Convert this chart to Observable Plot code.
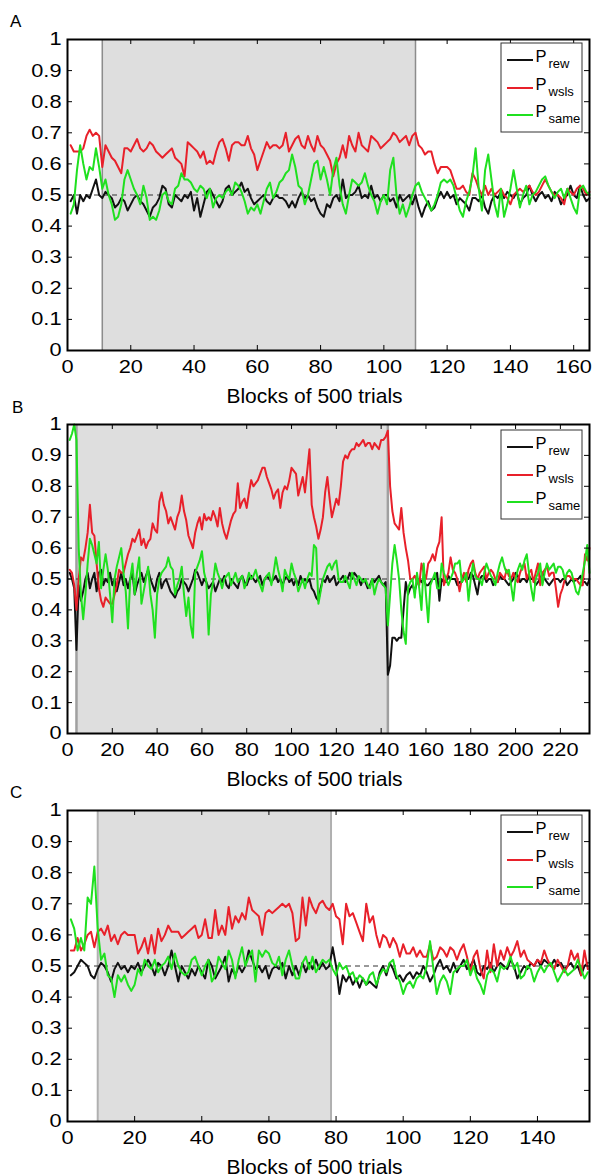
<!DOCTYPE html>
<html><head><meta charset="utf-8">
<script src="https://cdn.jsdelivr.net/npm/d3@7"></script>
<script src="https://cdn.jsdelivr.net/npm/@observablehq/plot@0.6"></script>
<style>
body{margin:0;background:#fff;}
#page{position:relative;width:595px;height:1176px;overflow:hidden;font-family:"Liberation Sans",Arial,sans-serif;}
#page svg{position:absolute;left:0;}
</style></head><body><div id="page"></div>
<script>
// ---------- labels / ticks ----------
const panelLetters = ["A", "B", "C"];
const seriesSubs = ["rew", "wsls", "same"];
const seriesColors = ["#111111", "#e8202a", "#1fe01f"];
const xLabel = "Blocks of 500 trials";
const yTicks = [0, 0.1, 0.2, 0.3, 0.4, 0.5, 0.6, 0.7, 0.8, 0.9, 1];
const xTicksA = [0, 20, 40, 60, 80, 100, 120, 140, 160];
const xTicksB = [0, 20, 40, 60, 80, 100, 120, 140, 160, 180, 200, 220];
const xTicksC = [0, 20, 40, 60, 80, 100, 120, 140];
const xMaxA = 165, xMaxB = 233, xMaxC = 155.5;
const chanceLevel = [0.5];
const shadeA = [11, 110];
const shadeB = [4, 143];
const shadeC = [9, 78.5];

// ---------- panel A (blocks 1..165) ----------
const aRew = [0.48,0.50,0.44,0.50,0.48,0.50,0.49,0.52,0.55,0.50,
0.49,0.51,0.50,0.49,0.46,0.47,0.49,0.48,0.45,0.47,
0.49,0.50,0.48,0.47,0.45,0.43,0.46,0.47,0.49,0.53,
0.52,0.47,0.46,0.50,0.49,0.48,0.50,0.49,0.51,0.45,
0.49,0.43,0.47,0.51,0.52,0.50,0.48,0.46,0.48,0.52,
0.53,0.50,0.51,0.52,0.54,0.51,0.52,0.49,0.47,0.48,
0.49,0.50,0.48,0.47,0.49,0.50,0.49,0.49,0.48,0.46,0.48,
0.46,0.49,0.51,0.49,0.50,0.48,0.49,0.46,0.44,
0.43,0.47,0.46,0.49,0.50,0.48,0.55,0.49,0.50,0.50,
0.51,0.53,0.49,0.50,0.49,0.53,0.49,0.50,0.48,0.50,
0.50,0.48,0.49,0.46,0.50,0.48,0.49,0.50,0.47,0.50,
0.46,0.43,0.46,0.48,0.45,0.46,0.49,0.51,0.49,0.51,
0.49,0.50,0.47,0.49,0.48,0.47,0.45,0.49,0.49,0.48,
0.50,0.46,0.44,0.48,0.50,0.49,0.51,0.49,0.51,0.50,
0.49,0.51,0.47,0.49,0.50,0.53,0.50,0.48,0.50,0.51,
0.49,0.50,0.48,0.51,0.50,0.47,0.49,0.50,0.53,0.50,
0.49,0.53,0.50,0.48,0.49];
const aWsls = [0.66,0.64,0.64,0.64,0.65,0.69,0.71,0.69,0.70,0.69,
0.59,0.66,0.64,0.62,0.61,0.59,0.57,0.65,0.65,0.64,
0.66,0.68,0.65,0.64,0.65,0.67,0.66,0.64,0.63,0.62,
0.63,0.64,0.65,0.62,0.61,0.60,0.56,0.67,0.66,0.65,
0.64,0.62,0.64,0.60,0.61,0.60,0.64,0.67,0.68,0.65,
0.61,0.66,0.67,0.67,0.66,0.66,0.69,0.65,0.63,0.58,
0.61,0.64,0.67,0.65,0.66,0.66,0.65,0.66,0.70,0.64,0.66,
0.68,0.69,0.66,0.65,0.69,0.66,0.64,0.69,0.66,0.65,
0.63,0.61,0.56,0.60,0.62,0.66,0.62,0.69,0.66,0.64,
0.70,0.66,0.65,0.64,0.69,0.68,0.67,0.65,0.66,0.67,
0.68,0.70,0.69,0.67,0.68,0.69,0.66,0.69,0.70,0.66,
0.65,0.63,0.64,0.64,0.60,0.57,0.59,0.59,0.59,0.58,
0.55,0.52,0.52,0.53,0.51,0.50,0.57,0.55,0.52,0.50,
0.53,0.50,0.52,0.50,0.51,0.52,0.50,0.49,0.47,0.50,
0.51,0.52,0.51,0.52,0.53,0.51,0.50,0.51,0.53,0.55,
0.53,0.51,0.50,0.50,0.49,0.47,0.52,0.51,0.50,0.52,
0.53,0.52,0.50,0.51];
const aSame = [0.44,0.47,0.58,0.66,0.60,0.55,0.59,0.58,0.65,0.59,
0.52,0.55,0.50,0.47,0.42,0.43,0.47,0.55,0.58,0.55,
0.52,0.50,0.47,0.53,0.49,0.42,0.43,0.42,0.45,0.50,
0.51,0.48,0.47,0.52,0.53,0.57,0.55,0.55,0.54,0.52,
0.51,0.53,0.52,0.49,0.52,0.46,0.49,0.50,0.49,0.51,
0.52,0.50,0.54,0.53,0.51,0.48,0.44,0.46,0.45,0.47,
0.44,0.48,0.52,0.54,0.49,0.51,0.54,0.55,0.57,0.58,0.63,
0.59,0.53,0.52,0.47,0.50,0.55,0.60,0.61,0.55,0.59,
0.55,0.50,0.58,0.62,0.53,0.47,0.44,0.50,0.55,0.54,
0.53,0.54,0.57,0.53,0.50,0.48,0.44,0.48,0.50,0.47,
0.58,0.62,0.50,0.44,0.47,0.43,0.46,0.50,0.53,0.54,
0.51,0.49,0.47,0.45,0.47,0.50,0.54,0.55,0.54,0.55,
0.53,0.49,0.45,0.43,0.48,0.51,0.56,0.65,0.52,0.45,
0.58,0.63,0.55,0.47,0.43,0.52,0.43,0.47,0.52,0.58,
0.52,0.46,0.50,0.53,0.47,0.50,0.51,0.53,0.55,0.56,
0.53,0.51,0.49,0.51,0.52,0.49,0.52,0.49,0.46,0.44,
0.52,0.53,0.51,0.50];

// ---------- panel B (blocks 1..233) ----------
const bRew = [0.52,0.50,0.47,0.27,0.48,0.43,0.46,0.50,0.52,0.47,
0.50,0.52,0.46,0.52,0.53,0.48,0.50,0.49,0.52,0.48,
0.50,0.46,0.49,0.52,0.48,0.50,0.47,0.50,0.52,0.45,
0.48,0.50,0.52,0.49,0.51,0.53,0.50,0.48,0.46,0.50,
0.52,0.47,0.49,0.50,0.48,0.46,0.45,0.44,0.46,0.47,
0.50,0.49,0.48,0.46,0.48,0.50,0.53,0.52,0.50,0.48,
0.50,0.49,0.47,0.48,0.49,0.46,0.48,0.50,0.49,0.51,
0.48,0.47,0.50,0.49,0.48,0.47,0.50,0.51,0.49,0.48,
0.50,0.51,0.50,0.49,0.50,0.51,0.48,0.50,0.51,0.50,
0.49,0.50,0.51,0.49,0.50,0.48,0.50,0.51,0.49,0.50,
0.48,0.50,0.48,0.51,0.49,0.50,0.49,0.50,0.47,0.46,
0.44,0.43,0.47,0.50,0.49,0.51,0.49,0.50,0.51,0.48,
0.49,0.50,0.51,0.49,0.50,0.52,0.50,0.52,0.51,0.50,
0.48,0.50,0.49,0.47,0.48,0.50,0.49,0.50,0.51,0.49,
0.48,0.49,0.19,0.22,0.31,0.31,0.30,0.31,0.31,0.40,
0.49,0.45,0.47,0.48,0.46,0.49,0.50,0.49,0.50,0.48,
0.48,0.49,0.50,0.50,0.52,0.43,0.50,0.49,0.49,0.51,
0.50,0.50,0.50,0.48,0.49,0.49,0.51,0.50,0.50,0.52,
0.51,0.48,0.45,0.50,0.51,0.51,0.49,0.50,0.50,0.48,
0.49,0.49,0.51,0.50,0.50,0.49,0.48,0.49,0.50,0.52,
0.51,0.49,0.50,0.50,0.49,0.51,0.50,0.50,0.48,0.49,
0.50,0.52,0.50,0.49,0.48,0.49,0.50,0.50,0.50,0.49,
0.50,0.50,0.48,0.49,0.50,0.49,0.50,0.50,0.51,0.49,
0.49,0.48,0.50];
const bWsls = [0.53,0.52,0.48,0.40,0.50,0.57,0.56,0.60,0.65,0.74,
0.65,0.64,0.55,0.47,0.43,0.41,0.44,0.43,0.42,0.42,
0.45,0.48,0.53,0.52,0.52,0.55,0.58,0.60,0.63,0.62,
0.64,0.66,0.61,0.63,0.60,0.62,0.63,0.68,0.66,0.65,
0.75,0.78,0.74,0.72,0.68,0.70,0.68,0.66,0.70,0.72,
0.77,0.72,0.69,0.64,0.62,0.60,0.65,0.68,0.70,0.66,
0.71,0.69,0.70,0.69,0.72,0.70,0.67,0.73,0.68,0.65,
0.63,0.66,0.69,0.71,0.72,0.81,0.73,0.75,0.76,0.73,
0.78,0.82,0.80,0.81,0.82,0.84,0.86,0.86,0.83,0.81,
0.79,0.76,0.78,0.79,0.73,0.78,0.80,0.79,0.82,0.86,
0.85,0.84,0.77,0.80,0.83,0.78,0.85,0.92,0.74,0.70,
0.67,0.63,0.66,0.70,0.78,0.83,0.76,0.70,0.73,0.76,
0.74,0.80,0.88,0.90,0.89,0.91,0.92,0.92,0.94,0.93,
0.94,0.95,0.93,0.94,0.94,0.92,0.94,0.93,0.92,0.95,
0.95,0.96,0.98,0.80,0.72,0.68,0.67,0.66,0.73,0.65,
0.60,0.56,0.50,0.50,0.51,0.49,0.48,0.55,0.52,0.50,
0.55,0.56,0.58,0.56,0.60,0.62,0.70,0.48,0.50,0.52,
0.57,0.53,0.52,0.50,0.46,0.50,0.52,0.49,0.53,0.55,
0.56,0.52,0.50,0.52,0.53,0.54,0.50,0.52,0.53,0.52,
0.50,0.49,0.52,0.51,0.50,0.53,0.51,0.50,0.52,0.50,
0.49,0.52,0.54,0.55,0.50,0.52,0.53,0.49,0.52,0.55,
0.48,0.52,0.53,0.54,0.51,0.52,0.52,0.47,0.41,0.45,
0.47,0.50,0.51,0.51,0.50,0.50,0.50,0.49,0.48,0.48,
0.58,0.56,0.60];
const bSame = [0.95,0.97,1.00,0.95,0.60,0.45,0.37,0.45,0.55,0.63,
0.61,0.58,0.55,0.62,0.47,0.53,0.58,0.53,0.45,0.36,
0.50,0.54,0.57,0.60,0.52,0.46,0.34,0.50,0.55,0.45,
0.52,0.57,0.42,0.46,0.50,0.54,0.45,0.40,0.31,0.45,
0.50,0.52,0.53,0.54,0.57,0.54,0.53,0.45,0.48,0.50,
0.54,0.45,0.38,0.44,0.35,0.31,0.52,0.54,0.56,0.59,
0.52,0.49,0.32,0.45,0.49,0.55,0.52,0.50,0.47,0.50,
0.51,0.52,0.48,0.50,0.52,0.49,0.50,0.51,0.47,0.49,
0.52,0.50,0.51,0.53,0.50,0.48,0.46,0.50,0.51,0.52,
0.48,0.52,0.57,0.53,0.50,0.46,0.53,0.51,0.50,0.55,
0.52,0.50,0.46,0.48,0.50,0.47,0.50,0.52,0.51,0.61,
0.60,0.42,0.46,0.50,0.52,0.54,0.55,0.53,0.55,0.56,
0.50,0.49,0.49,0.51,0.49,0.47,0.52,0.50,0.48,0.51,
0.50,0.49,0.50,0.48,0.47,0.50,0.45,0.48,0.50,0.49,
0.48,0.47,0.35,0.45,0.55,0.61,0.56,0.50,0.40,0.33,
0.29,0.47,0.49,0.50,0.44,0.52,0.47,0.40,0.55,0.45,
0.36,0.48,0.50,0.52,0.47,0.47,0.55,0.52,0.50,0.48,
0.50,0.52,0.55,0.55,0.56,0.49,0.50,0.52,0.43,0.50,
0.55,0.51,0.50,0.50,0.48,0.52,0.55,0.53,0.51,0.50,
0.48,0.52,0.55,0.57,0.54,0.52,0.53,0.48,0.43,0.50,
0.53,0.55,0.53,0.56,0.58,0.52,0.47,0.43,0.50,0.52,
0.55,0.48,0.52,0.55,0.53,0.54,0.55,0.52,0.54,0.54,
0.53,0.50,0.52,0.53,0.52,0.49,0.46,0.45,0.48,0.52,
0.56,0.61,0.52];

// ---------- panel C (blocks 1..155) ----------
const cRew = [0.47,0.48,0.50,0.52,0.51,0.50,0.47,0.46,0.49,0.51,
0.50,0.48,0.45,0.49,0.51,0.49,0.50,0.48,0.50,0.49,
0.51,0.48,0.50,0.52,0.50,0.47,0.51,0.50,0.47,0.50,
0.55,0.50,0.45,0.50,0.48,0.46,0.49,0.47,0.50,0.48,
0.46,0.52,0.50,0.46,0.48,0.50,0.53,0.45,0.49,0.47,
0.50,0.48,0.50,0.55,0.52,0.49,0.50,0.48,0.50,0.46,
0.49,0.50,0.49,0.51,0.46,0.50,0.47,0.50,
0.47,0.51,0.48,0.51,0.49,0.52,0.49,0.51,0.49,0.50,
0.56,0.50,0.41,0.47,0.45,0.47,0.44,0.46,0.43,0.46,
0.44,0.45,0.44,0.43,0.48,0.50,0.47,0.51,0.49,0.46,
0.47,0.45,0.47,0.48,0.46,0.48,0.47,0.50,0.48,0.45,
0.47,0.50,0.52,0.49,0.50,0.48,0.51,0.48,0.50,0.52,
0.49,0.50,0.52,0.48,0.47,0.50,0.49,0.51,0.48,0.50,
0.51,0.50,0.49,0.52,0.50,0.46,0.48,0.50,0.49,0.51,
0.50,0.52,0.50,0.52,0.51,0.50,0.52,0.50,0.51,0.49,
0.50,0.51,0.49,0.50,0.47,0.50,0.51];
const cWsls = [0.55,0.55,0.59,0.55,0.57,0.60,0.61,0.56,0.61,0.62,
0.60,0.63,0.58,0.60,0.57,0.60,0.61,0.60,0.60,0.60,
0.54,0.56,0.59,0.54,0.60,0.54,0.62,0.58,0.60,0.63,
0.61,0.61,0.61,0.59,0.60,0.61,0.62,0.63,0.59,0.60,
0.65,0.59,0.59,0.68,0.60,0.63,0.60,0.69,0.62,0.66,
0.64,0.67,0.65,0.72,0.68,0.67,0.66,0.60,0.67,0.68,
0.67,0.68,0.69,0.70,0.69,0.70,0.67,0.58,
0.59,0.72,0.63,0.72,0.69,0.67,0.70,0.71,0.69,0.68,
0.70,0.66,0.65,0.57,0.70,0.66,0.67,0.64,0.61,0.58,
0.70,0.64,0.66,0.60,0.56,0.60,0.59,0.56,0.59,0.57,
0.53,0.57,0.54,0.54,0.56,0.53,0.55,0.53,0.53,0.57,
0.52,0.53,0.56,0.55,0.53,0.56,0.55,0.52,0.55,0.57,
0.53,0.48,0.53,0.55,0.49,0.46,0.55,0.48,0.57,0.50,
0.55,0.52,0.56,0.53,0.55,0.58,0.53,0.55,0.52,0.51,
0.50,0.52,0.51,0.55,0.52,0.50,0.49,0.52,0.50,0.48,
0.50,0.55,0.52,0.54,0.47,0.55,0.49];
const cSame = [0.65,0.62,0.55,0.59,0.55,0.72,0.70,0.82,0.62,0.52,
0.54,0.47,0.46,0.40,0.47,0.45,0.47,0.44,0.42,0.44,
0.49,0.47,0.52,0.50,0.49,0.52,0.48,0.50,0.51,0.53,
0.49,0.54,0.50,0.48,0.47,0.48,0.52,0.53,0.50,0.47,
0.50,0.52,0.45,0.47,0.53,0.51,0.49,0.55,0.52,0.46,
0.52,0.56,0.50,0.53,0.55,0.45,0.55,0.53,0.55,0.54,
0.51,0.50,0.53,0.47,0.52,0.55,0.50,0.46,
0.46,0.51,0.53,0.49,0.53,0.48,0.50,0.52,0.51,0.52,
0.49,0.47,0.51,0.49,0.50,0.47,0.48,0.45,0.47,0.46,
0.44,0.47,0.48,0.44,0.47,0.49,0.48,0.51,0.52,0.47,
0.45,0.41,0.44,0.45,0.43,0.46,0.47,0.46,0.50,0.58,
0.49,0.41,0.45,0.47,0.45,0.41,0.48,0.49,0.50,0.50,
0.52,0.47,0.50,0.46,0.44,0.41,0.47,0.49,0.48,0.45,
0.50,0.49,0.50,0.53,0.49,0.51,0.46,0.47,0.50,0.49,
0.45,0.48,0.50,0.48,0.50,0.51,0.48,0.45,0.47,0.49,
0.47,0.48,0.49,0.52,0.49,0.46,0.48];

// ---------- layout ----------
const W = 595, ML = 67, MR = 6;
const panels = [
  {letter: panelLetters[0], top: 0,   height: 405, mt: 39, mb: 55, xMax: xMaxA, xTicks: xTicksA, shade: shadeA, series: [aRew, aWsls, aSame], edge: ["#8c8c8c", 1.5], letterY: 27, letterX: 10, legendTop: 43},
  {letter: panelLetters[1], top: 405, height: 385, mt: 19, mb: 57, xMax: xMaxB, xTicks: xTicksB, shade: shadeB, series: [bRew, bWsls, bSame], edge: ["#a0a0a0", 2.5], letterY: 413, letterX: 12, legendTop: 430},
  {letter: panelLetters[2], top: 790, height: 386, mt: 20, mb: 55, xMax: xMaxC, xTicks: xTicksC, shade: shadeC, series: [cRew, cWsls, cSame], edge: ["#b0b0b0", 2], letterY: 798, letterX: 10, legendTop: 815}
];

const page = document.getElementById("page");
const fmt = d => String(+d.toFixed(1));

// stretch a text element horizontally about its own x anchor (vertical untouched)
function stretch(t, s) {
  const x = parseFloat(t.getAttribute("x")) || 0;
  const tr = t.getAttribute("transform") || "";
  t.setAttribute("transform", `${tr} translate(${x},0) scale(${s},1) translate(${-x},0)`);
}

for (const p of panels) {
  const fh = p.height - p.mt - p.mb;
  const fw = W - ML - MR;
  const marks = [
    Plot.rect([p.shade], {x1: d => d[0], x2: d => d[1], fill: "#dedede"}),
    Plot.ruleX(p.shade, {stroke: p.edge[0], strokeWidth: p.edge[1]}),
    Plot.ruleY(chanceLevel, {stroke: "#333", strokeWidth: 1, strokeDasharray: "5,4"})
  ];
  p.series.forEach((s, k) => {
    marks.push(Plot.line(s, {x: (d, i) => i + 1, y: d => d, stroke: seriesColors[k], strokeWidth: 2, strokeLinejoin: "round"}));
  });
  marks.push(
    Plot.ruleX(p.xTicks, {insetTop: fh - 5, stroke: "#000", strokeWidth: 1}),
    Plot.ruleX(p.xTicks, {insetBottom: fh - 5, stroke: "#000", strokeWidth: 1}),
    Plot.ruleY(yTicks, {insetRight: fw - 5, stroke: "#000", strokeWidth: 1}),
    Plot.ruleY(yTicks, {insetLeft: fw - 5, stroke: "#000", strokeWidth: 1}),
    Plot.frame({stroke: "#000", strokeWidth: 2}),
    Plot.axisX(p.xTicks, {tickSize: 0, tickPadding: 9, label: null, fontSize: 18.6, tickFormat: d => String(d)}),
    Plot.axisY(yTicks, {tickSize: 0, tickPadding: 6, label: null, fontSize: 18.6, tickFormat: fmt}),
    Plot.text([xLabel], {frameAnchor: "bottom", dy: 52, dx: -14, fontSize: 20, fill: "#000"})
  );
  const chart = Plot.plot({
    width: W, height: p.height,
    marginLeft: ML, marginRight: MR, marginTop: p.mt, marginBottom: p.mb,
    x: {domain: [0, p.xMax]},
    y: {domain: [0, 1]},
    style: {fontFamily: "Liberation Sans, Arial, sans-serif", fontSize: "18px", color: "#000", background: "transparent", overflow: "visible"},
    marks
  });
  chart.style.top = p.top + "px";
  chart.querySelectorAll('g[aria-label$="tick label"] text').forEach(t => stretch(t, 1.17));
  chart.querySelectorAll("text").forEach(t => {
    if (t.textContent === xLabel) stretch(t, 1.05);
  });
  page.appendChild(chart);
}

// ---------- overlay: panel letters and legends ----------
const ov = d3.create("svg").attr("width", W).attr("height", 1176).style("top", "0px")
  .attr("font-family", "Liberation Sans, Arial, sans-serif");
const rowOffsets = [17, 45, 72];
for (const p of panels) {
  ov.append("text").attr("x", p.letterX).attr("y", p.letterY).attr("font-size", 17).text(p.letter);
  const g = ov.append("g");
  g.append("rect").attr("x", 501).attr("y", p.legendTop).attr("width", 81).attr("height", 89)
    .attr("fill", "#fff").attr("stroke", "#333").attr("stroke-width", 1);
  seriesSubs.forEach((sub, k) => {
    const ly = p.legendTop + rowOffsets[k];
    g.append("line").attr("x1", 507).attr("x2", 533).attr("y1", ly).attr("y2", ly)
      .attr("stroke", seriesColors[k]).attr("stroke-width", 2);
    g.append("text").attr("x", 535.5).attr("y", ly + 1.5).attr("font-size", 16.5).text("P");
    g.append("text").attr("x", 548.5).attr("y", ly + 7.5).attr("font-size", 13).text(sub);
  });
}
page.appendChild(ov.node());
</script></body></html>
